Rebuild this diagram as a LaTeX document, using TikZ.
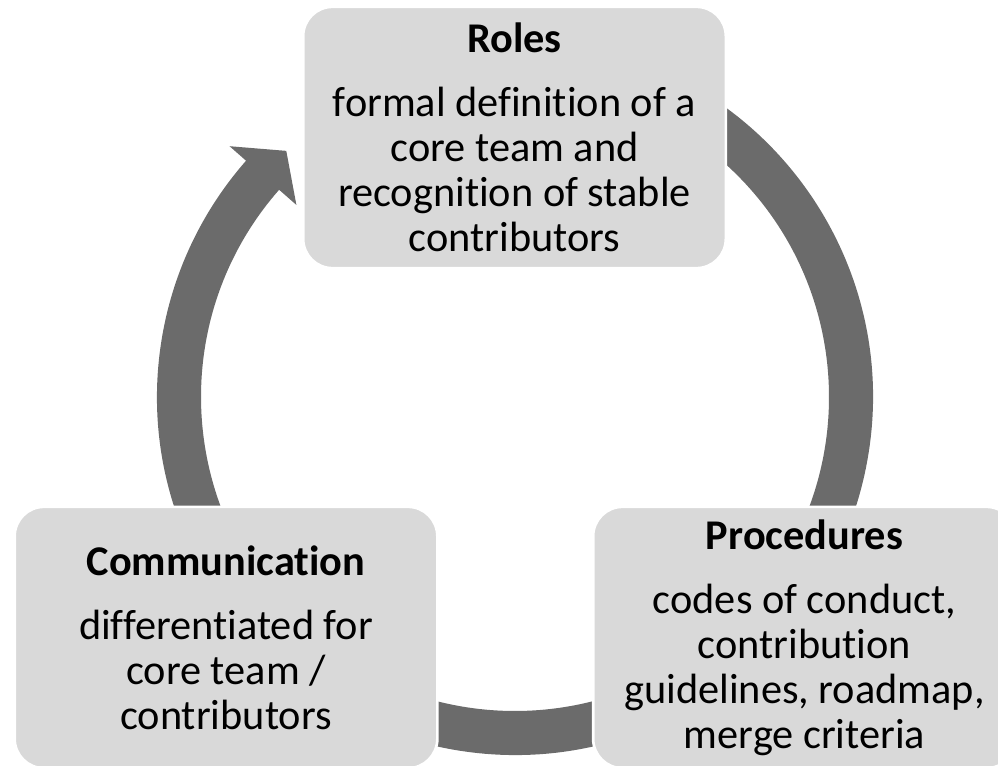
\documentclass[tikz,border=0pt]{standalone}
\usepackage{fontspec}
\setmainfont{Carlito}[Ligatures={NoCommon}]
\definecolor{boxgray}{RGB}{217,217,217}
\definecolor{ringgray}{RGB}{107,107,107}
\begin{document}
\begin{tikzpicture}[x=0.75pt,y=-0.75pt,
  cyclebox/.style={rectangle, rounded corners=22pt, fill=boxgray, draw=white, line width=2pt,
    minimum width=317pt, minimum height=196pt, inner sep=0pt, align=center,
    font=\fontsize{31.75pt}{33.75pt}\selectfont}]
\useasboundingbox (0,0) rectangle (998,766);
\clip (0,0) rectangle (998,766);
% ring with arrow head
\begin{scope}[shift={(515,397)}, x=0.75pt, y=0.75pt]
\fill[ringgray] (80:358) arc[start angle=80, end angle=-221.3, radius=358]
  -- (138.7:380) -- (132.9:336) -- (138.7:291) -- (138.7:314)
  arc[start angle=-221.3, end angle=80, radius=314] -- cycle;
\end{scope}
\node[cyclebox] (roles) at (514.5,137.5) {\textbf{Roles}\\[14pt]formal definition of a\\core team and\\recognition of stable\\contributors};
\node[cyclebox] (proc) at (804.5,637.5) {\textbf{Procedures}\\[14pt]codes of conduct,\\contribution\\guidelines, roadmap,\\merge criteria};
\node[cyclebox] (comm) at (226,637.5) {\textbf{Communication}\\[14pt]differentiated for\\core team /\\contributors};
\end{tikzpicture}
\end{document}
